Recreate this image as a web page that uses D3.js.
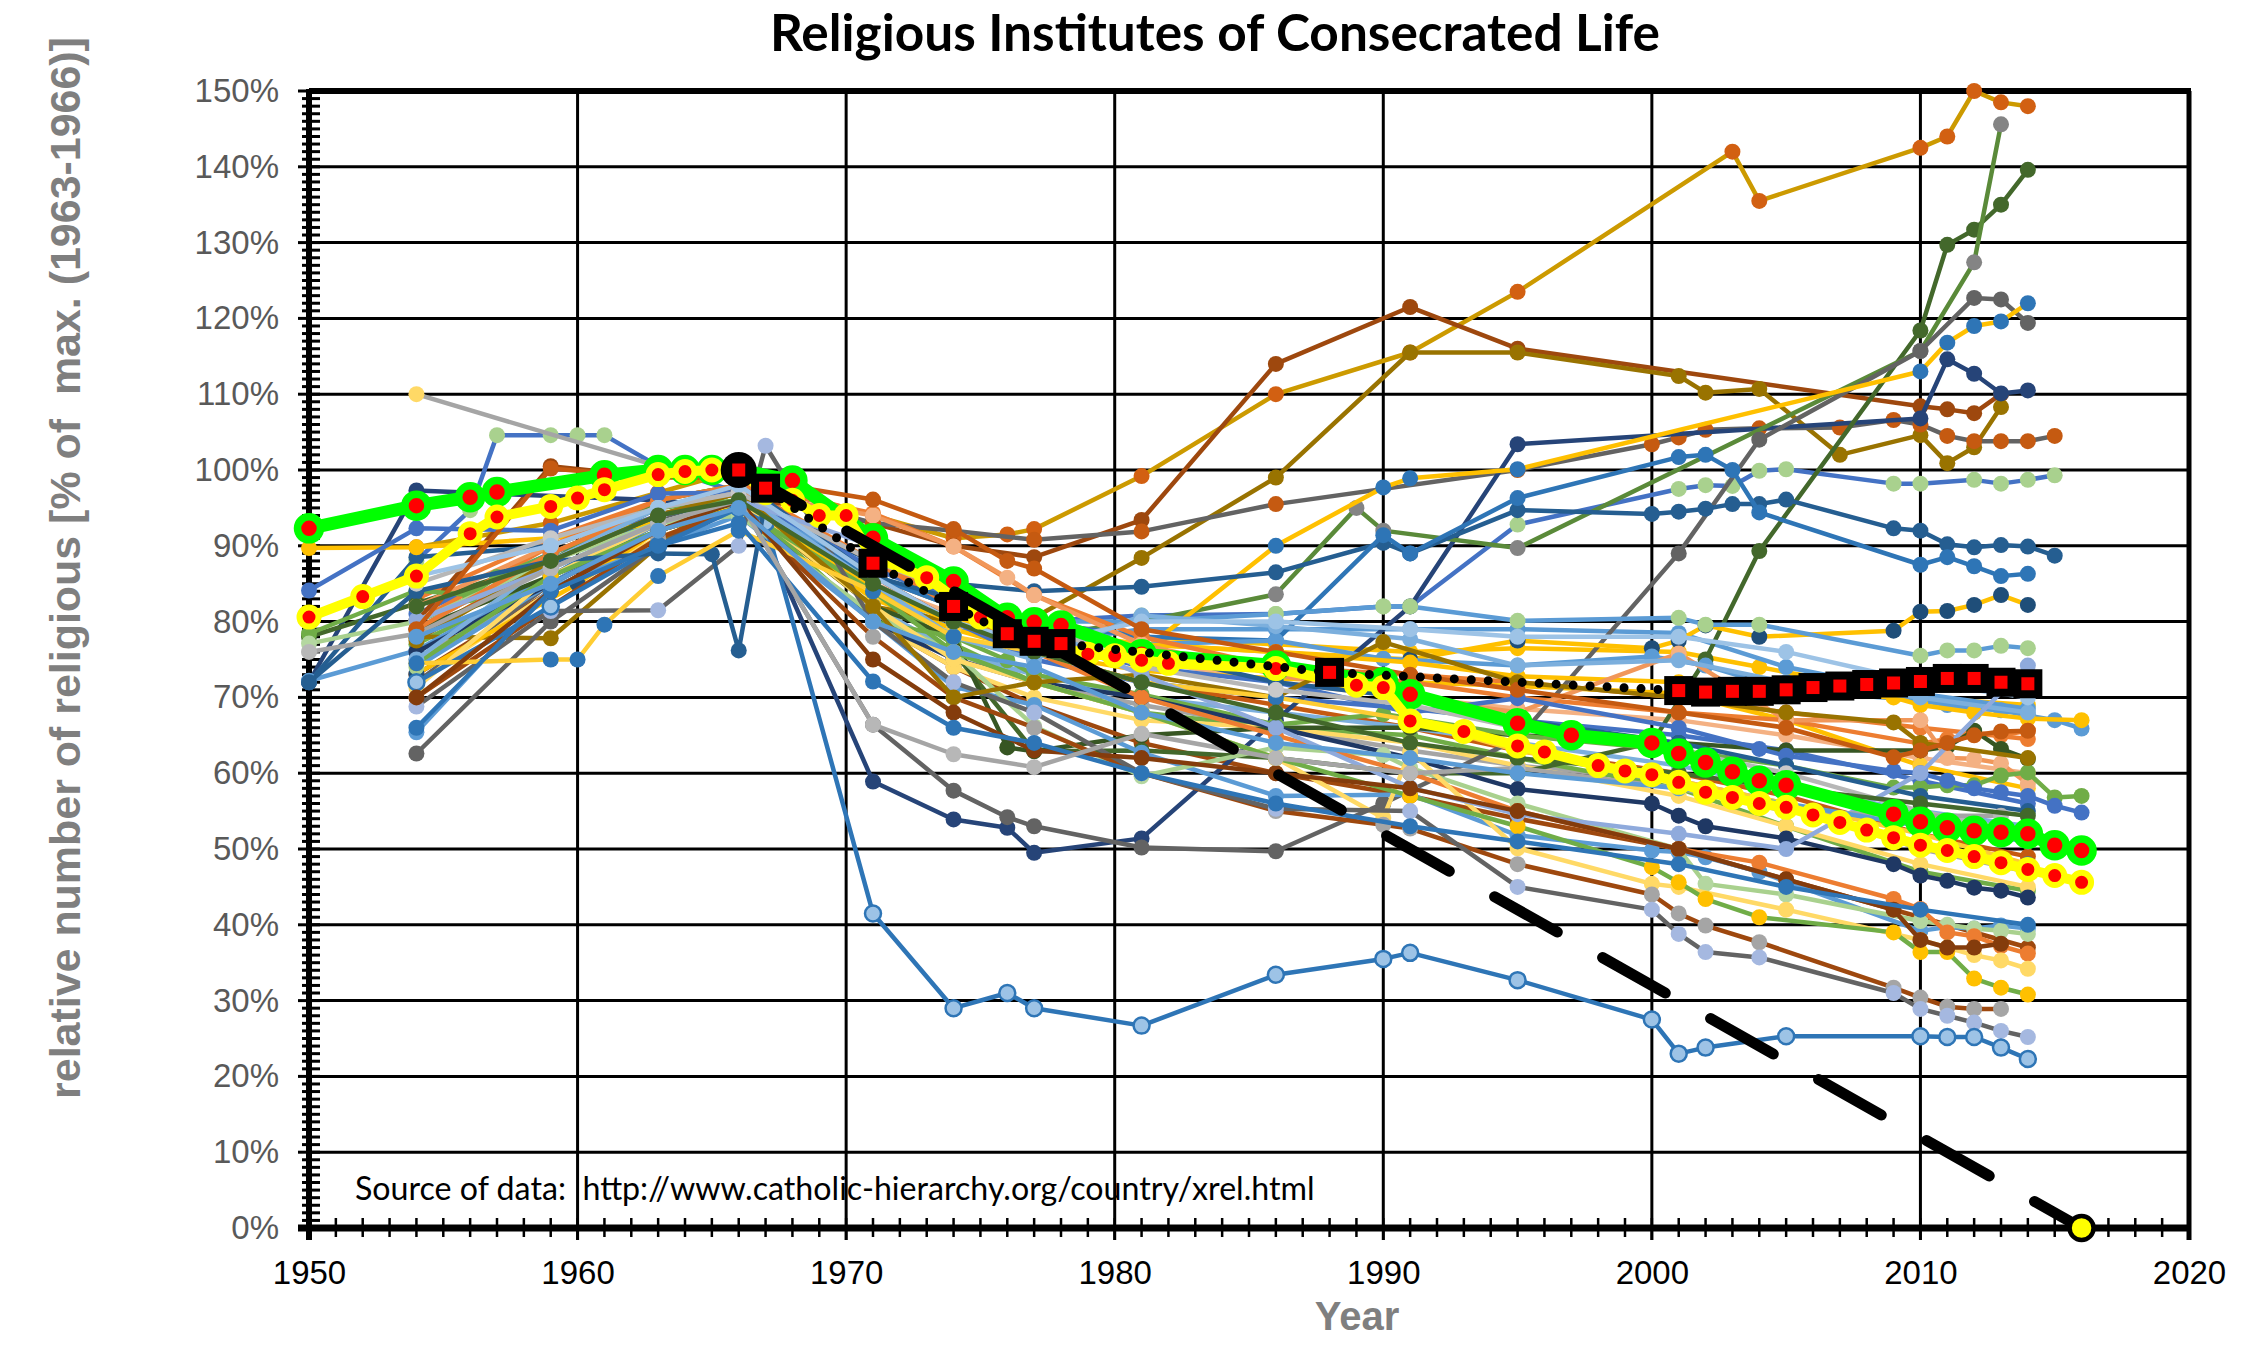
<!DOCTYPE html>
<html><head><meta charset="utf-8">
<script src="https://cdn.jsdelivr.net/npm/d3@7"></script>
<style>body{margin:0;background:#fff;} svg{display:block;} text.pre{white-space:pre;}</style>
</head><body>
<svg id="chart" width="2255" height="1355"></svg>
<script>
// ---------- axis / text data ----------
const xTicks = [1950, 1960, 1970, 1980, 1990, 2000, 2010, 2020];
const yTicks = [0, 10, 20, 30, 40, 50, 60, 70, 80, 90, 100, 110, 120, 130, 140, 150];
const titleText = "Religious Institutes of Consecrated Life";
const xTitle = "Year";
const yTitle = "relative number of religious [% of  max. (1963-1966)]";
const sourceText = "Source of data:  http://www.catholic-hierarchy.org/country/xrel.html";

// ---------- highlighted series ----------
const greenSeries = [[1950,92.3],[1954,95.3],[1956,96.4],[1957,97.1],[1961,99.3],[1963,100],[1964,100],[1965,100],[1966,100],[1968,98.6],[1971,91],[1974,85.3],[1976,80.5],[1977,79.9],[1978,79.5],[1981,75.7],[1986,74.2],[1990,72],[1991,70.4],[1995,66.6],[1997,65],[2000,64],[2001,62.6],[2002,61.4],[2003,60.2],[2004,59],[2005,58.4],[2009,54.6],[2010,53.6],[2011,52.8],[2012,52.4],[2013,52.2],[2014,52],[2015,50.5],[2016,49.8]];
const yellowSeries = [[1950,80.6],[1952,83.3],[1954,86],[1956,91.6],[1957,93.8],[1959,95.2],[1960,96.3],[1961,97.4],[1963,99.4],[1964,99.8],[1965,100],[1966,100],[1967,97],[1968,96],[1969,94],[1970,94],[1971,88.5],[1973,85.8],[1975,80.6],[1976,78.5],[1977,77.5],[1979,75.7],[1980,75.5],[1981,74.9],[1982,74.5],[1986,73.8],[1989,71.6],[1990,71.3],[1991,66.9],[1993,65.5],[1995,63.6],[1996,62.8],[1998,61],[1999,60.3],[2000,59.8],[2001,58.8],[2002,57.5],[2003,56.8],[2004,56],[2005,55.5],[2006,54.5],[2007,53.5],[2008,52.5],[2009,51.5],[2010,50.5],[2011,49.8],[2012,49],[2013,48.2],[2014,47.3],[2015,46.5],[2016,45.6]];
const squareSeries = [[1966,100],[1967,97.6],[1971,87.7],[1974,82],[1976,78.4],[1977,77.4],[1978,77.1],[1988,73.3],[2001,70.9],[2002,70.7],[2003,70.8],[2004,70.8],[2005,71],[2006,71.3],[2007,71.5],[2008,71.7],[2009,71.9],[2010,72.1],[2011,72.5],[2012,72.5],[2013,72],[2014,71.8]];
const trendSeries = [[1966,100],[2016,0]];

// ---------- background series ----------
const s01 = [[1954,88],[1956,94.7],[1957,104.6],[1959,104.6],[1960,104.6],[1961,104.6],[1963,100.5],[1966,97],[1967,95],[1971,86],[1974,82],[1977,80],[1981,80.8],[1986,81],[1990,82],[1991,82],[1995,92.8],[2001,97.5],[2002,98],[2003,97.9],[2004,99.9],[2005,100.1],[2009,98.2],[2010,98.2],[2012,98.7],[2013,98.2],[2014,98.7],[2015,99.3]];
const s02 = [[1954,110],[1963,100.5],[1966,99]];
const s03 = [[1954,89.8],[1959,93],[1963,97],[1966,100],[1967,98],[1971,94],[1974,91],[1976,91.5],[1977,92.2],[1981,99.2],[1986,110],[1991,115.5],[1995,123.5],[2003,142],[2004,135.5],[2010,142.5],[2011,144],[2012,150],[2013,148.5],[2014,148]];
const s04 = [[1954,80],[1959,100.5],[1963,99],[1966,100],[1967,96],[1971,93],[1974,90],[1977,88.5],[1981,93.4],[1986,114],[1991,121.5],[1995,116],[2010,108.4],[2011,108],[2012,107.5],[2013,110]];
const s05 = [[1954,78],[1959,77.8],[1963,90],[1966,98],[1967,93],[1971,82],[1974,80],[1977,80.5],[1981,88.4],[1986,99],[1991,115.5],[1995,115.5],[2001,112.4],[2002,110.2],[2004,110.7],[2007,102],[2010,104.6],[2011,100.9],[2012,103],[2013,108.3]];
const s06 = [[1954,72],[1959,85],[1963,93],[1966,98],[1971,93],[1974,92],[1977,90.8],[1981,91.9],[1986,95.5],[1995,100],[2000,103.4],[2001,104.3],[2002,105.3],[2004,105.5],[2007,105.6],[2009,106.6],[2010,106],[2011,104.5],[2012,103.8],[2013,103.8],[2014,103.8],[2015,104.5]];
const s07 = [[1950,72],[1954,97.3],[1963,96],[1966,95],[1967,91],[1971,58.9],[1974,53.9],[1976,52.8],[1977,49.5],[1981,51.4],[1986,67],[1991,82],[1995,103.4],[2010,106.8],[2011,114.6],[2012,112.7],[2013,110.1],[2014,110.5]];
const s08 = [[1950,78],[1954,82.4],[1959,88],[1963,95],[1966,97],[1967,92],[1971,80],[1974,76],[1977,62.9],[1981,63],[1986,62],[1991,60],[1995,60],[2000,64],[2002,75],[2004,89.3],[2010,118.4],[2011,129.7],[2012,131.7],[2013,135],[2014,139.6]];
const s09 = [[1954,80],[1959,88],[1963,96],[1966,98],[1971,85],[1974,80],[1977,78],[1981,80],[1986,83.6],[1989,95],[1990,92],[1995,89.7],[2010,115.7],[2012,127.4],[2013,145.6]];
const s10 = [[1954,62.6],[1959,80],[1963,90],[1966,96],[1971,66.4],[1974,57.7],[1976,54.2],[1977,53],[1981,50.2],[1986,49.7],[1990,56],[1995,64.5],[2001,89],[2004,104],[2010,115.7],[2012,122.7],[2013,122.5],[2014,119.4]];
const s11 = [[1981,76],[1986,90],[1990,97.7],[1991,98.9],[1995,100.1],[2010,113],[2011,116.8],[2012,119],[2013,119.6],[2014,122]];
const s12 = [[1950,72],[1954,88.5],[1959,90],[1963,95],[1966,97],[1967,94],[1971,88],[1974,85],[1977,84],[1981,84.6],[1986,86.5],[1990,90.4],[1991,89],[1995,94.7],[2000,94.2],[2001,94.5],[2002,94.9],[2003,95.5],[2004,95.5],[2005,96.1],[2009,92.3],[2010,92],[2011,90.2],[2012,89.8],[2013,90.1],[2014,89.9],[2015,88.7]];
const s13 = [[1954,76],[1959,86],[1963,94],[1966,96],[1971,86],[1974,82],[1977,80],[1981,78],[1986,77.5],[1990,91.4],[1991,89],[1995,96.3],[2001,101.7],[2002,102],[2003,100],[2004,94.4],[2010,87.5],[2011,88.5],[2012,87.3],[2013,86],[2014,86.3]];
const s14 = [[1954,73.1],[1960,85],[1963,92],[1966,95],[1971,84],[1974,80],[1977,78],[1981,77],[1986,76],[1991,75],[1995,77.5],[2000,76.5],[2001,77.5],[2002,79.5],[2004,78],[2009,78.8],[2010,81.3],[2011,81.4],[2012,82.2],[2013,83.5],[2014,82.2]];
const s15 = [[1954,74],[1959,85],[1963,93],[1966,96],[1971,87],[1974,83],[1977,80],[1981,80],[1986,81],[1990,82],[1991,82],[1995,80.1],[2001,80.5],[2002,79.6],[2004,79.6],[2010,75.5],[2011,76.2],[2012,76.2],[2013,76.8],[2014,76.5]];
const s16 = [[1950,72.2],[1954,76.2],[1959,86],[1963,93],[1966,95],[1967,92],[1971,85],[1974,80],[1977,77],[1981,77],[1986,77.5],[1990,75.1],[1995,74.2],[2000,75.4],[2002,74.2],[2005,71],[2010,69.6],[2011,69],[2012,68.5],[2013,68.3],[2014,67.6],[2015,67],[2016,65.9]];
const s17 = [[1950,89.7],[1954,89.8],[1959,91],[1963,93],[1966,95],[1967,93],[1971,84.4],[1974,80],[1977,79],[1981,77],[1986,76],[1991,74.6],[1995,72.8],[2001,72],[2004,71],[2009,70],[2010,69],[2012,68],[2014,67.2],[2016,67]];
const s18 = [[1954,80],[1959,90],[1963,96],[1966,98],[1971,94.3],[1974,89.9],[1977,83.5],[1981,78],[1986,74],[1991,72],[1995,70],[2001,68],[2005,67],[2010,63.9],[2011,64.5],[2012,65.3],[2013,65],[2014,65.6]];
const s19 = [[1954,79],[1959,86],[1963,92],[1966,96],[1971,82],[1974,78],[1976,63.4],[1977,62.9],[1981,65],[1986,66],[1991,66],[1995,65],[2001,64],[2005,63],[2010,63],[2011,63.5],[2012,65.6],[2013,63.2],[2014,61.9]];
const s20 = [[1954,82],[1959,90],[1963,95],[1966,97],[1971,94],[1974,89.9],[1976,85.8],[1977,83.5],[1981,77],[1986,73],[1991,70],[1995,68],[2001,75.8],[2005,67],[2010,67],[2011,62],[2012,61.9],[2013,61.3],[2014,58.6]];
const s21 = [[1950,78.4],[1954,84.1],[1956,83.5],[1957,85.9],[1961,92],[1963,95],[1966,96],[1971,80],[1974,78],[1976,74.9],[1977,73],[1981,70.4],[1986,66.4],[1990,67.8],[1995,65],[2001,63],[2005,61],[2009,58.1],[2010,58.1],[2011,58.4],[2012,58.4],[2013,59.7],[2014,60.1],[2015,56.8],[2016,57]];
const s22 = [[1950,84.1],[1954,92.3],[1959,92],[1963,96.9],[1966,97],[1971,87],[1974,83],[1977,78],[1981,74],[1986,72],[1991,68],[1995,69.9],[2001,66],[2004,63.2],[2005,62.3],[2009,60.3],[2010,60],[2011,59],[2012,58],[2013,57.5],[2014,57],[2015,55.7],[2016,54.8]];
const s23 = [[1954,76],[1959,85],[1963,92],[1966,95],[1971,80],[1974,75.1],[1977,72],[1981,70],[1986,66],[1991,62],[1995,57.9],[2000,56],[2001,54.4],[2002,53],[2005,51.4],[2009,48],[2010,46.5],[2011,45.8],[2012,44.9],[2013,44.5],[2014,43.6]];
const s24 = [[1954,65.4],[1959,84.5],[1963,90],[1966,94],[1971,80],[1974,71.4],[1977,69],[1981,62.7],[1986,57],[1991,57.2],[1995,51.8],[2000,49.8],[2001,49.6],[2002,48.9],[2004,47],[2010,39.2],[2011,39.7],[2012,39.5],[2013,39.9],[2014,39.5]];
const s25 = [[1950,77.1],[1954,80],[1959,88],[1963,93],[1966,94],[1971,81],[1974,76],[1977,66.2],[1981,59.6],[1986,63.4],[1990,62.4],[1991,60.7],[1995,56],[2001,50],[2002,45.4],[2005,44],[2010,40.5],[2011,40],[2012,39.5],[2013,39.2],[2014,38.8]];
const s26 = [[1954,79],[1959,89],[1963,95],[1966,97],[1971,88],[1974,82],[1977,76],[1981,70],[1986,65],[1991,60],[1995,55],[2001,50],[2004,48.2],[2009,43.4],[2010,42.1],[2011,39],[2012,38.5],[2013,37.2],[2014,36.2]];
const s27 = [[1954,71.3],[1959,86],[1963,93],[1966,96],[1971,82],[1974,75],[1977,72],[1981,68],[1986,62],[1990,54.1],[1991,62.8],[1995,50.1],[2000,45.4],[2001,45],[2005,42],[2010,38],[2011,37],[2012,36],[2013,35.3],[2014,34.2]];
const s28 = [[1954,74.5],[1959,86],[1963,92],[1966,95],[1971,84],[1974,76],[1977,72],[1981,68],[1986,62],[1991,57],[1995,53],[2000,47.6],[2001,45.6],[2002,43.4],[2004,41],[2009,39],[2010,36.4],[2011,36.4],[2012,32.9],[2013,31.7],[2014,30.8]];
const s29 = [[1954,70],[1959,82],[1963,91],[1966,95],[1971,78],[1974,70],[1977,66],[1981,60],[1986,55],[1990,53.2],[1991,52.7],[1995,48],[2000,44],[2001,41.5],[2002,39.9],[2004,37.7],[2009,31.7],[2010,30.4],[2011,29.2],[2012,28.9],[2013,28.9]];
const s30 = [[1954,68.8],[1959,81.4],[1963,81.5],[1966,90],[1967,103.2],[1971,80],[1974,72],[1977,68],[1981,60],[1986,55.3],[1991,55],[1995,45],[2000,42],[2001,38.8],[2002,36.4],[2004,35.7],[2009,31],[2010,28.9],[2011,28],[2012,27.1],[2013,26],[2014,25.2]];
const s31 = [[1954,72],[1959,82],[1963,90],[1966,95],[1967,93],[1971,41.5],[1974,29],[1976,31],[1977,29],[1981,26.7],[1986,33.4],[1990,35.5],[1991,36.3],[1995,32.7],[2000,27.5],[2001,23],[2002,23.8],[2005,25.3],[2010,25.3],[2011,25.2],[2012,25.2],[2013,23.8],[2014,22.3]];
const s32 = [[1950,72],[1954,84],[1959,88],[1963,89],[1965,88.9],[1966,76.2],[1967,96],[1971,86],[1974,83],[1977,80],[1981,76],[1986,72],[1991,70],[1995,67],[2001,64],[2005,61],[2010,57],[2014,55]];
const s33 = [[1954,75],[1959,88],[1963,95],[1966,97],[1971,85],[1974,78],[1977,75],[1981,80.8],[1986,79.4],[1991,77.7],[1995,74.2],[2001,74.9],[2005,72],[2010,70],[2014,68]];
const s34 = [[1954,77.5],[1959,88],[1963,94],[1966,97],[1971,82],[1974,70],[1977,72],[1981,73],[1986,70],[1990,77.3],[1995,72],[2001,70],[2005,68],[2009,66.7],[2010,64],[2014,62]];
const s35 = [[1954,74.5],[1959,75],[1960,75],[1961,79.6],[1963,86],[1966,92],[1971,84],[1974,78],[1977,76],[1981,72],[1986,70],[1991,67],[1995,63],[2001,59],[2005,56],[2010,52],[2014,48]];
const s36 = [[1954,85],[1959,91],[1963,95],[1966,97],[1971,88],[1974,84],[1977,80],[1981,74],[1986,71],[1991,69],[1995,66],[2001,63],[2005,60],[2010,55],[2014,52]];
const s37 = [[1954,80.2],[1959,87],[1963,93],[1966,96],[1971,90],[1974,85],[1977,79],[1981,73],[1986,66],[1991,58.1],[1995,54.6],[2001,52],[2005,50],[2010,60],[2014,74.2]];
const s38 = [[1954,70],[1959,84],[1963,92],[1966,96],[1971,75],[1974,68],[1977,63],[1981,62],[1986,60],[1991,58],[1995,55],[2001,50],[2005,46],[2009,42],[2010,38],[2011,37],[2012,37],[2013,37.5]];
const s39 = [[1954,66],[1959,84],[1963,90],[1966,93],[1971,72.1],[1974,66],[1977,64],[1981,60],[1986,56],[1991,53],[1995,51],[2001,48],[2005,45],[2010,42],[2014,40]];
const s40 = [[1950,76],[1954,78.4],[1959,87],[1963,93],[1966,96],[1971,66.4],[1974,62.5],[1977,60.8],[1981,65.2],[1986,62],[1991,60],[1995,60.7],[2001,58],[2005,55],[2010,54.4],[2013,54.4]];
const s41 = [[1954,86],[1959,90],[1963,95],[1966,98],[1971,86],[1974,80],[1977,77],[1981,80],[1986,80],[1991,79],[1995,78],[2001,78],[2005,76],[2010,72],[2014,70]];
const s42 = [[1954,79],[1959,100.2],[1963,99],[1966,99],[1971,96.1],[1974,92.2],[1976,88],[1977,87],[1981,79],[1986,76],[1991,73],[1995,71],[2001,68],[2005,66],[2009,62.1],[2010,63],[2011,64],[2012,65],[2013,65.5],[2014,65.6]];
const s43 = [[1954,82],[1959,88],[1963,94],[1966,96],[1971,85],[1974,80],[1977,76],[1981,72],[1986,68],[1991,64],[1995,62],[2001,60],[2005,58],[2010,56],[2014,54.4]];
const s44 = [[1954,78],[1959,85],[1963,92],[1966,95],[1971,80],[1974,76],[1977,74],[1981,68],[1986,64],[1991,62],[1995,60],[2001,58],[2005,56],[2010,53],[2014,51]];
const s45 = [[1954,78],[1959,88],[1963,94],[1966,97],[1971,86],[1974,82],[1977,80],[1981,78],[1986,77],[1991,76],[1995,76.5],[2001,76],[2004,74],[2010,70],[2014,69]];
const s46 = [[1954,83],[1959,91],[1963,96],[1966,98],[1971,88],[1974,83],[1977,79],[1981,76],[1986,74],[1991,73],[1995,72],[2001,70],[2005,68],[2010,66],[2014,64.5]];
const s47 = [[1954,79],[1959,89],[1963,95],[1966,97],[1971,84],[1974,79],[1977,77],[1981,79],[1986,79],[1991,79],[1995,79],[2001,78.5],[2005,74],[2010,70.5],[2014,68.5]];
const s48 = [[1954,80],[1959,88],[1963,94],[1966,97],[1971,85],[1974,81],[1977,78],[1981,75],[1986,72],[1991,70],[1995,68.5],[2001,67],[2005,65],[2010,62],[2014,60]];
const s49 = [[1954,76],[1959,86],[1963,93],[1966,96],[1971,83],[1974,79],[1977,76],[1981,73.5],[1986,72.5],[1991,72],[1995,71.5],[2001,70.5],[2005,67],[2010,61],[2014,58]];
const s50 = [[1954,75],[1959,85],[1963,92],[1966,96],[1971,82],[1974,76],[1977,72],[1981,69],[1986,66],[1991,63],[1995,61],[2001,59],[2005,56],[2010,50],[2014,47]];
const s51 = [[1954,73],[1959,84],[1963,92],[1966,95],[1971,80],[1974,74],[1977,69],[1981,64],[1986,60],[1991,57],[1995,54],[2001,50],[2005,46],[2010,41],[2014,37]];
const s52 = [[1954,77],[1959,86],[1963,93],[1966,96],[1971,84],[1974,77],[1977,72],[1981,68],[1986,66],[1991,65],[1995,62],[2001,58],[2005,53],[2010,47],[2014,44.5]];
const s53 = [[1954,81],[1959,89],[1963,94],[1966,97],[1971,86],[1974,80],[1977,75],[1981,72],[1986,70],[1991,68.5],[1995,67],[2001,65],[2005,63],[2010,59],[2014,56]];
const s54 = [[1954,72],[1959,84],[1963,91],[1966,95],[1971,80],[1974,74],[1977,70],[1981,67],[1986,66],[1991,64],[1995,61],[2001,57],[2005,53],[2010,48],[2014,45]];
const s55 = [[1954,78],[1959,88],[1963,94],[1966,97],[1971,86],[1974,80],[1977,76],[1981,72],[1986,69],[1991,66],[1995,63],[2001,60],[2005,57],[2010,52],[2014,49]];
const s56 = [[1954,80],[1959,87],[1963,93],[1966,96],[1971,82],[1974,76],[1977,73],[1981,70],[1986,68],[1991,66],[1995,64],[2001,61],[2005,58],[2010,55],[2014,53]];

const bgData = [s45,s46,s47,s48,s49,s50,s51,s52,s53,s54,s55,s56,
  s01,s02,s03,s04,s05,s06,s07,s08,s09,s10,s11,s12,s13,s14,s15,s16,s17,s18,s19,s20,s21,s22,s23,s24,s25,s26,s27,s28,s29,s30,s31,s32,s33,s34,s35,s36,s37,s38,s39,s40,s41,s42,s43,s44];
const bgLine = ["#FFC000","#ED7D31","#5B9BD5","#F4B183","#FFC000","#A5A5A5","#9E480E","#70AD47","#4472C4","#FFD966","#C55A11","#7CAFDD",
  "#4472C4","#A5A5A5","#CC9A00","#9E480E","#997300","#636363","#264478","#43682B","#5A8A39","#636363","#FFC000","#255E91","#2E75B6","#FFC000","#5B9BD5","#5B9BD5","#FFC000","#ED7D31","#375623","#F1975A","#70AD47","#4472C4","#1F3864","#5B9BD5","#A9D18E","#ED7D31","#FFD966","#70AD47","#9E480E","#636363","#2E75B6","#255E91","#7CAFDD","#997300","#FFCD33","#B7B7B7","#8FAADC","#843C0C","#2E75B6","#A5A5A5","#9DC3E6","#C55A11","#43682B","#5B9BD5"];
const bgMarker = ["#FFC000","#ED7D31","#5B9BD5","#F4B183","#FFCD33","#A5A5A5","#9E480E","#70AD47","#4472C4","#FFD966","#C55A11","#7CAFDD",
  "#A9D18E","#FFD966","#D26012","#9E480E","#997300","#C55A11","#264478","#43682B","#848484","#636363","#2E75B6","#255E91","#2E75B6","#1F4E79","#A9D18E","#5B9BD5","#FFC000","#ED7D31","#375623","#F4B183","#70AD47","#4472C4","#1F3864","#5B9BD5","#B4D7A0","#ED7D31","#FFD966","#FFC000","#A5A5A5","#A5B8E0","#9DC3E6","#255E91","#7CAFDD","#997300","#2E75B6","#C9C9C9","#8FAADC","#843C0C","#2E75B6","#B7B7B7","#9DC3E6","#C55A11","#43682B","#5B9BD5"];

// ---------- drawing ----------
const x = d3.scaleLinear().domain([1950, 2020]).range([309, 2189]);
const y = d3.scaleLinear().domain([0, 150]).range([1228, 91]);
const svg = d3.select("#chart");
const line = d3.line().x(d => x(d[0])).y(d => y(d[1]));

// gridlines
const grid = svg.append("g");
grid.selectAll("line.h").data(yTicks.filter(v => v > 0 && v < 150)).join("line")
  .attr("x1", x(1950)).attr("x2", x(2020)).attr("y1", d => y(d)).attr("y2", d => y(d))
  .attr("stroke", "#000").attr("stroke-width", 3);
grid.selectAll("line.v").data(xTicks.filter(v => v > 1950 && v < 2020)).join("line")
  .attr("y1", y(150)).attr("y2", y(0) + 12).attr("x1", d => x(d)).attr("x2", d => x(d))
  .attr("stroke", "#000").attr("stroke-width", 3);
grid.append("line").attr("x1", x(1950)).attr("x2", x(2020) + 2).attr("y1", y(150)).attr("y2", y(150)).attr("stroke", "#000").attr("stroke-width", 6);
grid.append("line").attr("x1", x(2020)).attr("x2", x(2020)).attr("y1", y(150)).attr("y2", y(0) + 12).attr("stroke", "#000").attr("stroke-width", 5);

const minorY = d3.range(0, 151, 1);
grid.selectAll("line.my").data(minorY).join("line")
  .attr("x1", d => d % 10 === 0 ? x(1950) - 11 : x(1950) - 7).attr("x2", x(1950) + 11)
  .attr("y1", d => y(d)).attr("y2", d => y(d))
  .attr("stroke", "#000").attr("stroke-width", 3);
const minorX = d3.range(1950, 2021, 1);
grid.selectAll("line.mx").data(minorX).join("line")
  .attr("x1", d => x(d)).attr("x2", d => x(d))
  .attr("y1", y(0) - 10).attr("y2", d => d % 10 === 0 ? y(0) + 12 : y(0) + 9)
  .attr("stroke", "#000").attr("stroke-width", 2.5);
grid.append("line").attr("x1", x(1950)).attr("x2", x(1950)).attr("y1", y(150) - 2).attr("y2", y(0) + 12).attr("stroke", "#000").attr("stroke-width", 6);
grid.append("line").attr("x1", x(1950) - 11).attr("x2", x(2020) + 2).attr("y1", y(0)).attr("y2", y(0)).attr("stroke", "#000").attr("stroke-width", 7);

// axes labels
const yAxis = svg.append("g").attr("transform", `translate(${x(1950)},0)`)
  .call(d3.axisLeft(y).tickValues(yTicks).tickFormat(d => d + "%").tickSize(0).tickPadding(30));
yAxis.select(".domain").remove();
yAxis.selectAll("text").attr("font-family", "Liberation Sans, Arial, sans-serif").attr("font-size", 33).attr("fill", "#595959");
const xAxis = svg.append("g").attr("transform", `translate(0,${y(0)})`)
  .call(d3.axisBottom(x).tickValues(xTicks).tickFormat(d3.format("d")).tickSize(0).tickPadding(33));
xAxis.select(".domain").remove();
xAxis.selectAll("text").attr("font-family", "Liberation Sans, Arial, sans-serif").attr("font-size", 33).attr("fill", "#000");

// background series
const bg = svg.append("g");
bgData.forEach((data, i) => {
  const gg = bg.append("g");
  gg.append("path").datum(data).attr("d", line).attr("fill", "none")
    .attr("stroke", bgLine[i]).attr("stroke-width", 4.5).attr("stroke-linejoin", "round");
  gg.selectAll("circle").data(data).join("circle")
    .attr("cx", d => x(d[0])).attr("cy", d => y(d[1])).attr("r", 8)
    .attr("fill", bgMarker[i])
    .attr("stroke", data === s31 ? "#2E75B6" : "none").attr("stroke-width", 2.5);
});

// green series
const gG = svg.append("g");
gG.append("path").datum(greenSeries).attr("d", line).attr("fill", "none")
  .attr("stroke", "#00FF00").attr("stroke-width", 13).attr("stroke-linejoin", "round");
gG.selectAll("circle").data(greenSeries).join("circle")
  .attr("cx", d => x(d[0])).attr("cy", d => y(d[1])).attr("r", 11.5)
  .attr("fill", "#FF0000").attr("stroke", "#00FF00").attr("stroke-width", 7.5);

// yellow series
const gY = svg.append("g");
gY.append("path").datum(yellowSeries).attr("d", line).attr("fill", "none")
  .attr("stroke", "#FFFF00").attr("stroke-width", 10).attr("stroke-linejoin", "round");
gY.selectAll("circle").data(yellowSeries).join("circle")
  .attr("cx", d => x(d[0])).attr("cy", d => y(d[1])).attr("r", 9.5)
  .attr("fill", "#FF0000").attr("stroke", "#FFFF00").attr("stroke-width", 6);

// trend dashed line
const gT = svg.append("g");
gT.append("path").datum(trendSeries).attr("d", line).attr("fill", "none")
  .attr("stroke", "#000").attr("stroke-width", 11).attr("stroke-linecap", "round")
  .attr("stroke-dasharray", "72 52");
gT.append("circle").attr("cx", x(trendSeries[0][0])).attr("cy", y(trendSeries[0][1])).attr("r", 18).attr("fill", "#000");
gT.append("circle").attr("cx", x(trendSeries[1][0])).attr("cy", y(trendSeries[1][1])).attr("r", 12)
  .attr("fill", "#FFFF00").attr("stroke", "#000").attr("stroke-width", 4.5);

// squares series (dotted)
const gS = svg.append("g");
gS.append("path").datum(squareSeries).attr("d", line).attr("fill", "none")
  .attr("stroke", "#000").attr("stroke-width", 9).attr("stroke-linecap", "round")
  .attr("stroke-dasharray", "0 17");
gS.selectAll("rect.o").data(squareSeries.filter(d => d[0] !== 1966)).join("rect")
  .attr("x", d => x(d[0]) - 14.5).attr("y", d => y(d[1]) - 14.5).attr("width", 29).attr("height", 29).attr("fill", "#000");
gS.selectAll("rect.i").data(squareSeries).join("rect")
  .attr("x", d => x(d[0]) - 6.5).attr("y", d => y(d[1]) - 6.5).attr("width", 13).attr("height", 13).attr("fill", "#FF0000");

function fit(sel, target) {
  const w = sel.node().getComputedTextLength();
  const fs = parseFloat(sel.attr("font-size"));
  sel.attr("font-size", fs * target / w);
}

const t = svg.append("text").attr("x", 1215).attr("y", 51).attr("text-anchor", "middle")
  .attr("font-family", "Lato, 'Open Sans', sans-serif").attr("font-weight", "bold").attr("font-size", 44)
  .attr("fill", "#000").text(titleText);
fit(t, 890);

const yt = svg.append("text").attr("class", "pre").attr("transform", "translate(80,568) rotate(-90)").attr("text-anchor", "middle")
  .attr("font-family", "Liberation Sans, Arial, sans-serif").attr("font-weight", "bold").attr("font-size", 34)
  .attr("fill", "#7F7F7F").text(yTitle);
fit(yt, 1062);

svg.append("text").attr("x", 1357).attr("y", 1330).attr("text-anchor", "middle")
  .attr("font-family", "Liberation Sans, Arial, sans-serif").attr("font-weight", "bold").attr("font-size", 40)
  .attr("fill", "#7F7F7F").text(xTitle);

const st = svg.append("text").attr("class", "pre").attr("x", 355).attr("y", 1200)
  .attr("font-family", "Lato, 'Open Sans', sans-serif").attr("font-size", 30)
  .attr("fill", "#000").text(sourceText);
fit(st, 960);
</script>
</body></html>
